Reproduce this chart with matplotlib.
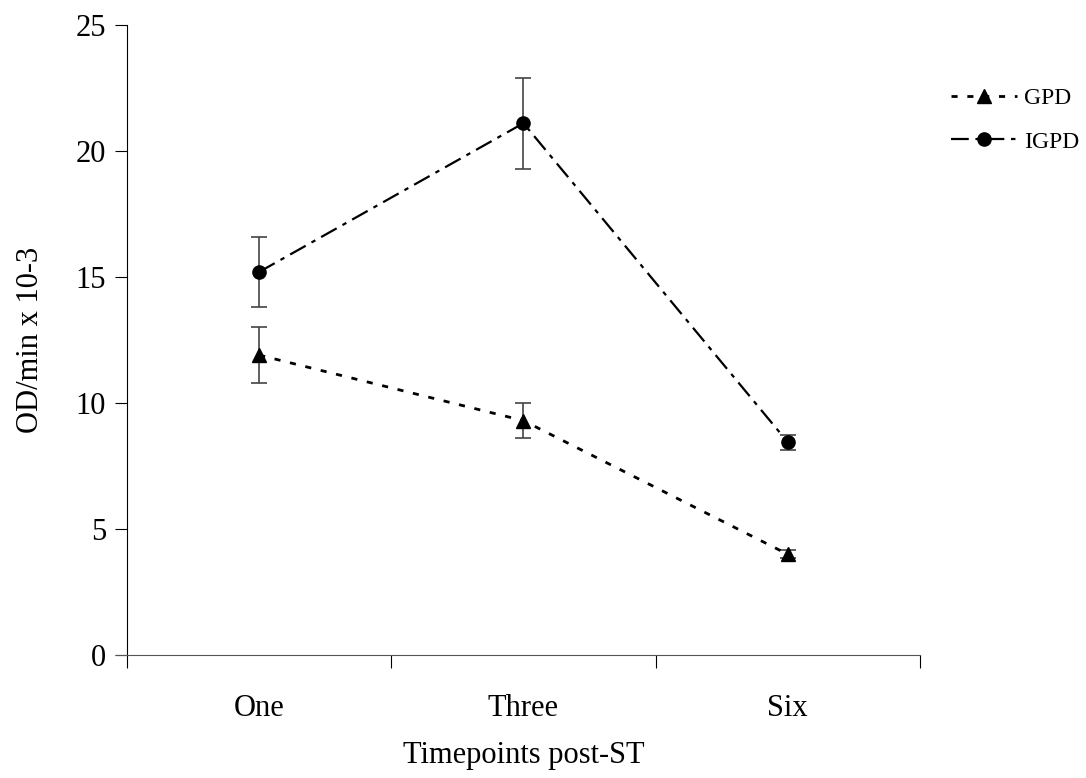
import matplotlib
matplotlib.use("Agg")
import matplotlib.pyplot as plt
from matplotlib.lines import Line2D

plt.rcParams['font.family'] = ['Liberation Serif', 'DejaVu Serif']

categories = ["One", "Three", "Six"]
gpd = [11.9, 9.3, 4.0]
gpd_err = [1.1, 0.7, 0.15]
igpd = [15.2, 21.1, 8.45]
igpd_err = [1.4, 1.8, 0.3]

gpd_style = dict(color='black', linestyle=(0, (2.2, 3.5)), linewidth=2, marker='^', markersize=10)
igpd_style = dict(color='black', linestyle=(0, (8, 3, 2, 3)), linewidth=1.6, marker='o', markersize=9.5)

fig = plt.figure(figsize=(10.86, 7.78), dpi=100)
ax = fig.add_axes([0.117, 0.158, 0.73, 0.81])

x = range(len(categories))
ax.errorbar(x, gpd, yerr=gpd_err, ecolor='#444444', elinewidth=1.2,
            capsize=6, capthick=1.2, **gpd_style)
ax.errorbar(x, igpd, yerr=igpd_err, ecolor='#444444', elinewidth=1.2,
            capsize=6, capthick=1.2, **igpd_style)

ax.set_xlim(-0.5, 2.5)
ax.set_ylim(0, 25)
ax.set_yticks([0, 5, 10, 15, 20, 25])
ax.set_xticks([-0.5, 0.5, 1.5, 2.5])
ax.set_xticklabels([])
ax.set_xticks(list(x), minor=True)
ax.set_xticklabels(categories, minor=True)
ax.tick_params(axis='x', which='minor', length=0, pad=28, labelsize=22)
ax.tick_params(axis='x', which='major', length=9, direction='out')
ax.tick_params(axis='y', length=9, direction='out', labelsize=22, pad=6)

for side in ['top', 'right']:
    ax.spines[side].set_visible(False)
ax.spines['bottom'].set_color('#555555')
ax.spines['bottom'].set_bounds(-0.54, 2.5)

ax.set_xlabel("Timepoints post-ST", fontsize=22, labelpad=13)
ax.set_ylabel("OD/min x 10-3", fontsize=22, labelpad=22)

handles = [Line2D([], [], **gpd_style), Line2D([], [], **igpd_style)]
ax.legend(handles, ["GPD", "IGPD"], loc='upper left', bbox_to_anchor=(0.867, 0.9),
          bbox_transform=fig.transFigure, frameon=False, fontsize=17,
          handlelength=2.8, handletextpad=0.3, labelspacing=0.95, borderaxespad=0,
          numpoints=1)

fig.savefig("out.png", dpi=100)
